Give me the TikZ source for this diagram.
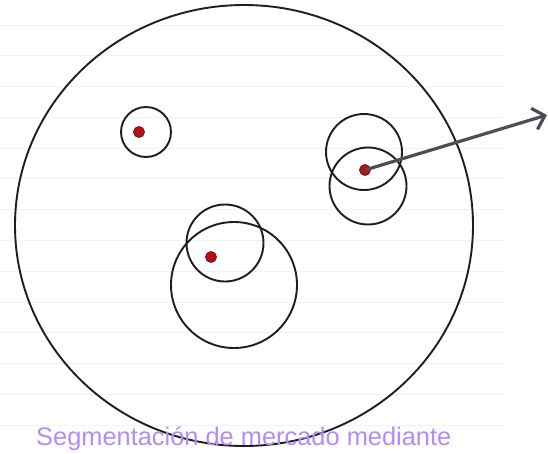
\documentclass[tikz,border=0pt]{standalone}
\usepackage{fontspec}
\setmainfont{Liberation Sans}
\usetikzlibrary{shapes.geometric,arrows.meta}
\definecolor{ringcol}{RGB}{30,30,30}
\definecolor{dotfill}{RGB}{185,15,20}
\definecolor{dotdraw}{RGB}{110,20,20}
\definecolor{arrowcol}{RGB}{75,78,88}
\definecolor{labelcol}{RGB}{180,140,248}
\definecolor{rulecol}{RGB}{243,243,243}
\tikzset{
  ring/.style={circle,draw=ringcol,line width=1.9pt,inner sep=0pt,outer sep=0pt,minimum size=#1},
  bigring/.style={ellipse,draw=ringcol,line width=1.9pt,inner sep=0pt,outer sep=0pt},
  reddot/.style={circle,fill=dotfill,draw=dotdraw,line width=0.8pt,inner sep=0pt,minimum size=11pt},
  pointer/.style={draw=arrowcol,line width=3.2pt,-{Straight Barb[length=11pt,width=22pt,line width=3.2pt]}},
  ruled/.style={draw=rulecol,line width=0.8pt},
  caption/.style={text=labelcol,font=\fontsize{25.4}{30}\selectfont,inner sep=0pt,anchor=base west}
}
\begin{document}
\begin{tikzpicture}[x=1pt,y=-1pt]
\useasboundingbox[fill=white] (0,0) rectangle (548,453);
% faint ruled background lines
\foreach \yy in {25,55.8,86.5,117.3,148,178.8,209.6,240.4,271.2,302,332.7,363.5,394.3,425}
  \draw[ruled] (0,\yy) -- (505,\yy);
% big circle
\node[bigring,minimum width=458pt,minimum height=441pt] (big) at (244,225.5) {};
% small rings
\node[ring=50pt] (c1) at (146,132) {};
\node[ring=76pt] (c2) at (364,152) {};
\node[ring=77pt] (c3) at (368,186) {};
\node[ring=77pt] (c4) at (225,243) {};
\node[ring=126pt] (c5) at (234,285) {};
% dots
\node[reddot] (d1) at (139,132) {};
\node[reddot] (d2) at (211,257) {};
\node[reddot] (d3) at (365,170) {};
% arrow
\coordinate (tip) at (547,115);
\draw[pointer] (d3.center) -- (tip);
% caption
\node[caption] (cap) at (36,445.7) {Segmentación de mercado mediante};
\end{tikzpicture}
\end{document}
